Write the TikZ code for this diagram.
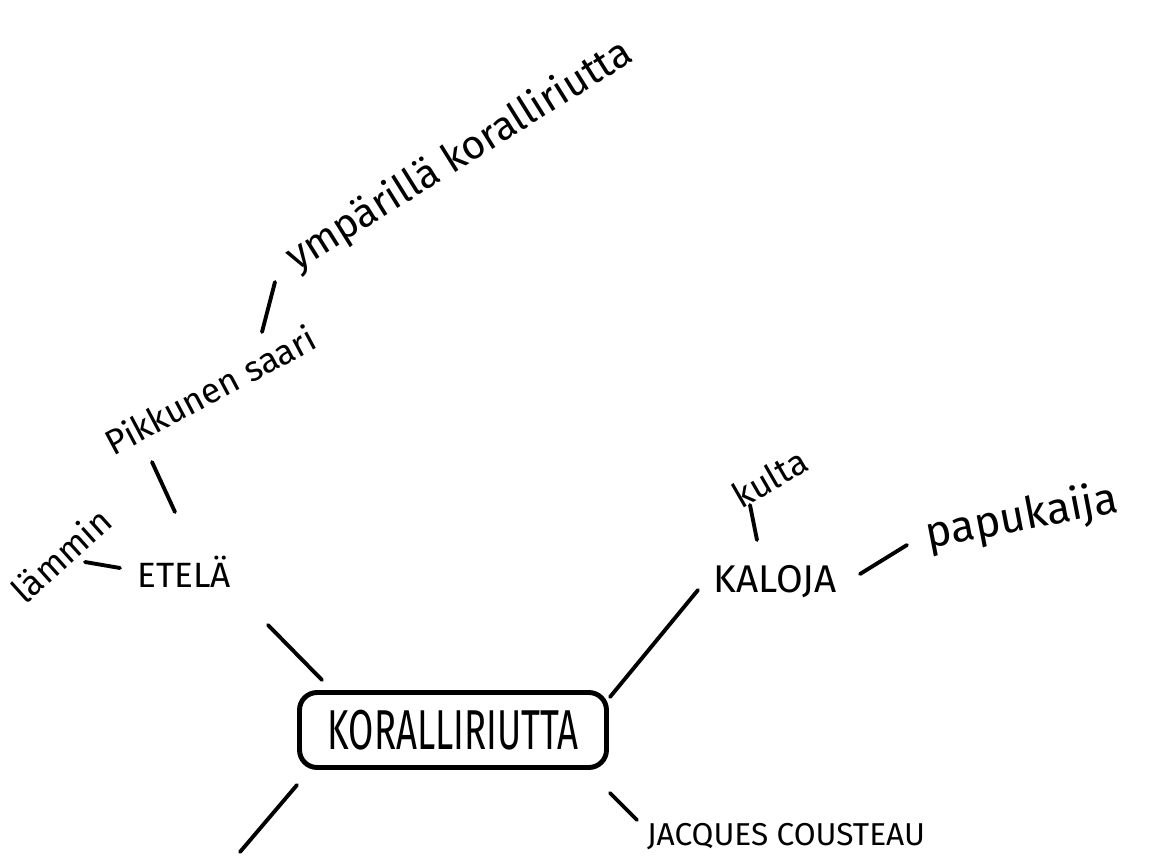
\documentclass[tikz,border=0pt]{standalone}
\usepackage{fontspec}
\setmainfont{Fira Sans}
\newfontfamily\hubfont[FakeStretch=0.65]{Fira Sans}
\begin{document}
\begin{tikzpicture}[x=1cm,y=-1cm,
  font=\fontsize{10}{12}\selectfont,
  hubbox/.style={draw,line width=1.4pt,rounded corners=5pt,
    minimum width=3.07cm,minimum height=0.75cm,
    font=\hubfont\fontsize{16}{18}\selectfont},
  caps/.style={font=\fontsize{9}{11}\selectfont},
  word/.style={inner sep=1pt},
  stroke/.style={line width=1.1pt,line cap=round}]
  \path[use as bounding box] (0,0) rectangle (11.57,8.60);
  % centre and branches
  \node[hubbox] (hub) at (4.53,7.30) {KORALLIRIUTTA};
  \node[caps,font=\fontsize{10}{12}\selectfont] (etela) at (1.84,5.72) {ETELÄ};
  \node[word,rotate=42] (lammin) at (0.61,5.55) {lämmin};
  \node[word,rotate=28] (saari) at (2.10,3.90) {Pikkunen saari};
  \node[word,rotate=32,font=\fontsize{11.5}{13}\selectfont] (ympari) at (4.60,1.56)
    {ympärillä koralliriutta};
  \node[caps,font=\fontsize{11}{13}\selectfont] (kaloja) at (7.75,5.82) {KALOJA};
  \node[word,rotate=30] (kulta) at (7.70,4.78) {kulta};
  \node[word,rotate=11,font=\fontsize{12.5}{14}\selectfont] (papu) at (10.22,5.18) {papukaija};
  \node[caps] (cousteau) at (7.86,8.37) {JACQUES COUSTEAU};
  \coordinate (open) at (2.40,8.52);
  % short strokes between the words
  \draw[stroke] ([shift={(0.84,0.53)}]etela.center) -- ([shift={(-1.31,-0.50)}]hub.center);
  \draw[stroke] ([shift={(0.24,0.07)}]lammin.center) -- ([shift={(-0.64,-0.04)}]etela.center);
  \draw[stroke] ([shift={(-0.09,-0.60)}]etela.center) -- ([shift={(-0.58,0.72)}]saari.center);
  \draw[stroke] ([shift={(0.52,-0.58)}]saari.center) -- ([shift={(-1.85,1.26)}]ympari.center);
  \draw[stroke] ([shift={(1.57,-0.33)}]hub.center) -- ([shift={(-0.77,0.08)}]kaloja.center);
  \draw[stroke] ([shift={(0.85,-0.08)}]kaloja.center) -- ([shift={(-1.15,0.27)}]papu.center);
  \draw[stroke] ([shift={(-0.18,-0.42)}]kaloja.center) -- ([shift={(-0.20,0.27)}]kulta.center);
  \draw[stroke] ([shift={(1.57,0.63)}]hub.center) -- ([shift={(-1.49,-0.17)}]cousteau.center);
  \draw[stroke] ([shift={(-1.56,0.55)}]hub.center) -- (open);
\end{tikzpicture}
\end{document}
